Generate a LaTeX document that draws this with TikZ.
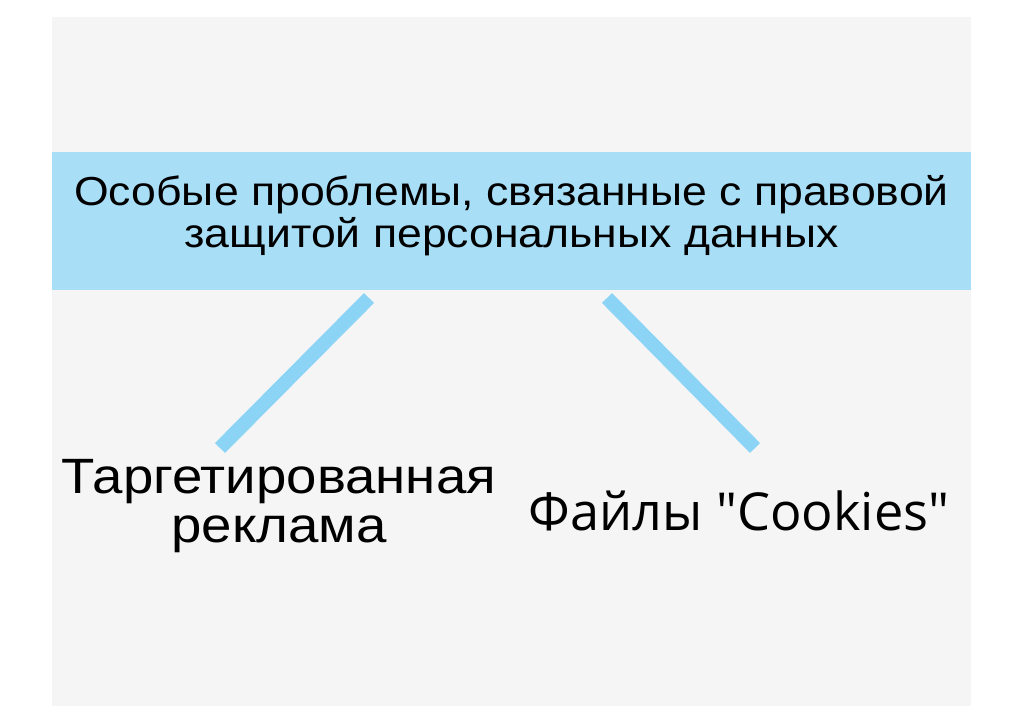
\documentclass[tikz,border=0pt]{standalone}
\usepackage{fontspec}
\setmainfont{Liberation Sans}[FakeStretch=1.1]
\newfontfamily\cookiefont{Open Sans}
\usetikzlibrary{positioning}
\definecolor{BandFill}{HTML}{A8DEF6}
\definecolor{LinkLine}{HTML}{8CD4F6}
\definecolor{PanelFill}{HTML}{F5F5F5}

\begin{document}
\begin{tikzpicture}[
    x=0.025cm, y=-0.025cm,
    band/.style={
        rectangle, fill=BandFill, inner sep=0pt,
        minimum width=22.975cm, minimum height=3.45cm,
        font=\fontsize{28.8}{30}\selectfont, align=center,
        text depth=13pt
    },
    topic/.style={inner sep=0pt, align=center, text=black},
    link/.style={line width=10pt, LinkLine}
]

% Page and panel
\useasboundingbox[fill=white] (0,0) rectangle (1024,723);
\fill[PanelFill] (52,17) rectangle (971,706);

% Nodes
\node[band] (problems) at (511.5,221)
    {Особые проблемы, связанные с правовой\\защитой персональных данных};

\node[topic, font=\fontsize{35.3}{35}\selectfont] (target) at (279,506)
    {Таргетированная\\реклама};

\node[topic, font=\cookiefont\fontsize{37.2}{37}\selectfont] (cookies) at (739,511)
    {Файлы "Cookies"};

% Link ends
\coordinate (targetTop) at (369,298);
\coordinate (targetEnd) at (220,448);
\coordinate (cookiesTop) at (607,298);
\coordinate (cookiesEnd) at (755,448);

% Links
\foreach \a/\b in {targetTop/targetEnd, cookiesTop/cookiesEnd} {
    \draw[link] (\a) -- (\b);
}

\end{tikzpicture}
\end{document}
